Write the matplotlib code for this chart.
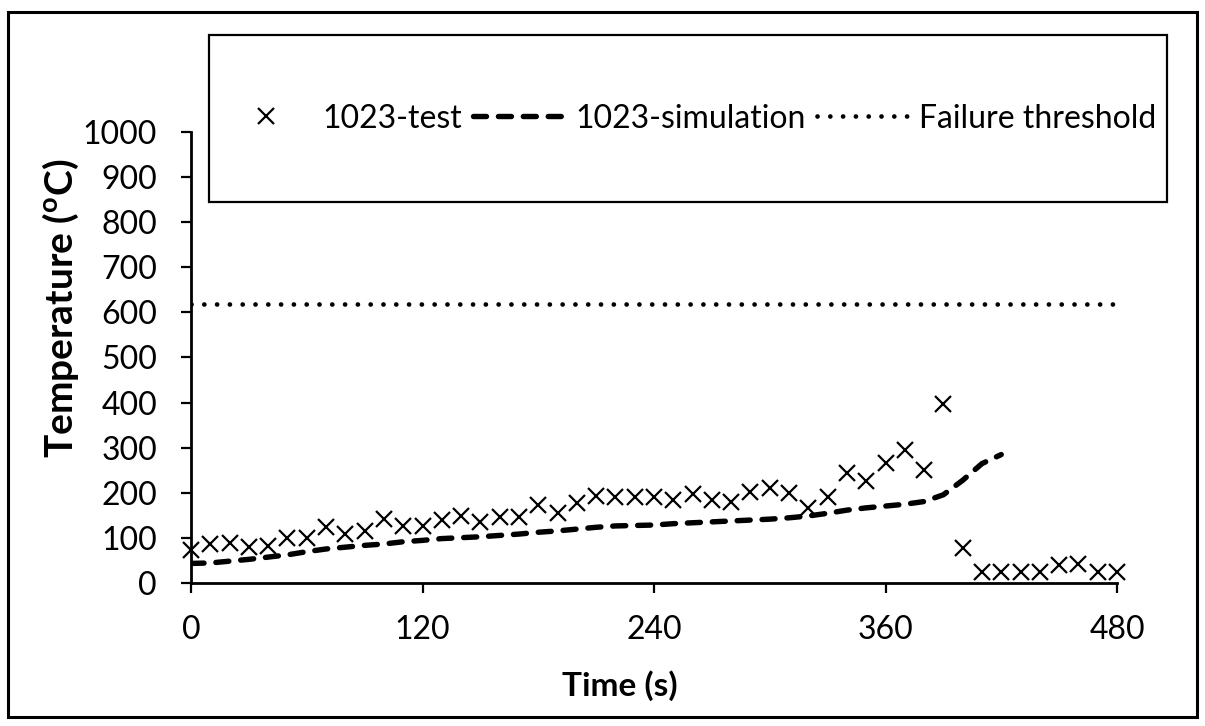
import matplotlib
matplotlib.use("Agg")
import matplotlib.pyplot as plt
from matplotlib.lines import Line2D
from matplotlib.patches import Rectangle

plt.rcParams['font.family'] = ['Lato', 'DejaVu Sans']
plt.rcParams['mathtext.fontset'] = 'custom'
plt.rcParams['mathtext.rm'] = 'Lato'
plt.rcParams['mathtext.bf'] = 'Lato:bold'

# measured temperatures, one reading every 10 s
test_time = [0, 10, 20, 30, 40, 50, 60, 70, 80, 90, 100, 110, 120, 130, 140, 150,
             160, 170, 180, 190, 200, 210, 220, 230, 240, 250, 260, 270, 280, 290,
             300, 310, 320, 330, 340, 350, 360, 370, 380, 390, 400, 410, 420, 430,
             440, 450, 460, 470, 480]
test_temp = [74, 86, 89, 80, 83, 101, 101, 125, 109, 116, 142, 127, 127, 141, 150, 136,
             147, 147, 173, 155, 177, 193, 192, 192, 192, 184, 198, 184, 180, 203,
             212, 199, 166, 192, 245, 226, 266, 295, 251, 397, 78, 24, 24, 24,
             24, 41, 43, 26, 26]

# simulated temperature
sim_time = [0, 10, 20, 30, 40, 50, 60, 70, 80, 90, 100, 110, 120, 130, 140, 150,
            160, 170, 180, 190, 200, 210, 220, 230, 240, 250, 260, 270, 280, 290,
            300, 310, 320, 330, 340, 350, 360, 370, 380, 390, 400, 410, 420]
sim_temp = [44, 45, 49, 53, 58, 63, 70, 76, 80, 84, 87, 92, 95, 99, 101, 103,
            106, 109, 113, 116, 120, 124, 127, 128, 129, 132, 134, 136, 138, 140,
            142, 145, 149, 155, 162, 167, 171, 175, 181, 196, 228, 265, 285]

threshold = 618
x_ticks = [0, 120, 240, 360, 480]
y_ticks = list(range(0, 1001, 100))

W, H = 1205, 726
fig = plt.figure(figsize=(W / 100, H / 100), dpi=100)
ax = fig.add_axes([191 / W, 1 - 583.3 / H, (1117 - 191) / W, (583.3 - 131.6) / H])

dash_style = (0, (2.4, 2.2))
dot_style = (0, (0.01, 2.7))

ax.plot(test_time, test_temp, linestyle='none', marker='x', markersize=12,
        markeredgewidth=1.6, color='black', clip_on=False, zorder=3)
ax.plot(sim_time, sim_temp, color='black', linewidth=3.9, linestyle=dash_style,
        dash_capstyle='round', solid_capstyle='round')
ax.plot([0, 480], [threshold, threshold], color='black', linewidth=3.4,
        linestyle=dot_style, dash_capstyle='round')

ax.set_xlim(0, 480)
ax.set_ylim(0, 1000)
ax.set_xticks(x_ticks)
ax.set_yticks(y_ticks)
for side in ['top', 'right']:
    ax.spines[side].set_visible(False)
for side in ['left', 'bottom']:
    ax.spines[side].set_linewidth(2)
ax.tick_params(axis='both', direction='out', length=7.5, width=1.6,
               labelsize=23, colors='black')
ax.tick_params(axis='x', pad=15)
ax.tick_params(axis='y', pad=17)

fig.text(620 / W, 1 - 696 / H, 'Time (s)', ha='center', va='baseline',
         fontsize=24, fontweight='bold')
fig.text(61 / W, 1 - 458 / H, r'Temperature ($^{\mathbf{o}}$C)', rotation=90,
         ha='center', va='bottom', fontsize=28, fontweight='bold')

# legend box and entries
fig.patches.append(Rectangle((209 / W, 1 - 202 / H), (1167 - 209) / W, (202 - 35) / H,
                             transform=fig.transFigure, facecolor='white',
                             edgecolor='black', linewidth=1.6, zorder=1))
handles = [
    Line2D([], [], linestyle='none', marker='x', markersize=12, markeredgewidth=1.6, color='black'),
    Line2D([], [], color='black', linewidth=3.9, linestyle=dash_style, dash_capstyle='round'),
    Line2D([], [], color='black', linewidth=3.4, linestyle=dot_style, dash_capstyle='round'),
]
labels = ['1023-test', '1023-simulation', 'Failure threshold']
leg = fig.legend(handles, labels, loc='center', bbox_to_anchor=(688 / W, 1 - 118.5 / H),
                 ncol=3, frameon=False, fontsize=23, handlelength=2.9,
                 handletextpad=0.3, columnspacing=0.35)
leg.set_zorder(2)

# outer frame
fig.patches.append(Rectangle((8.3 / W, 1 - 717 / H), (1197 - 8.3) / W, (717 - 11.7) / H,
                             transform=fig.transFigure, fill=False,
                             edgecolor='black', linewidth=2.2))

fig.savefig('out.png', dpi=100)
